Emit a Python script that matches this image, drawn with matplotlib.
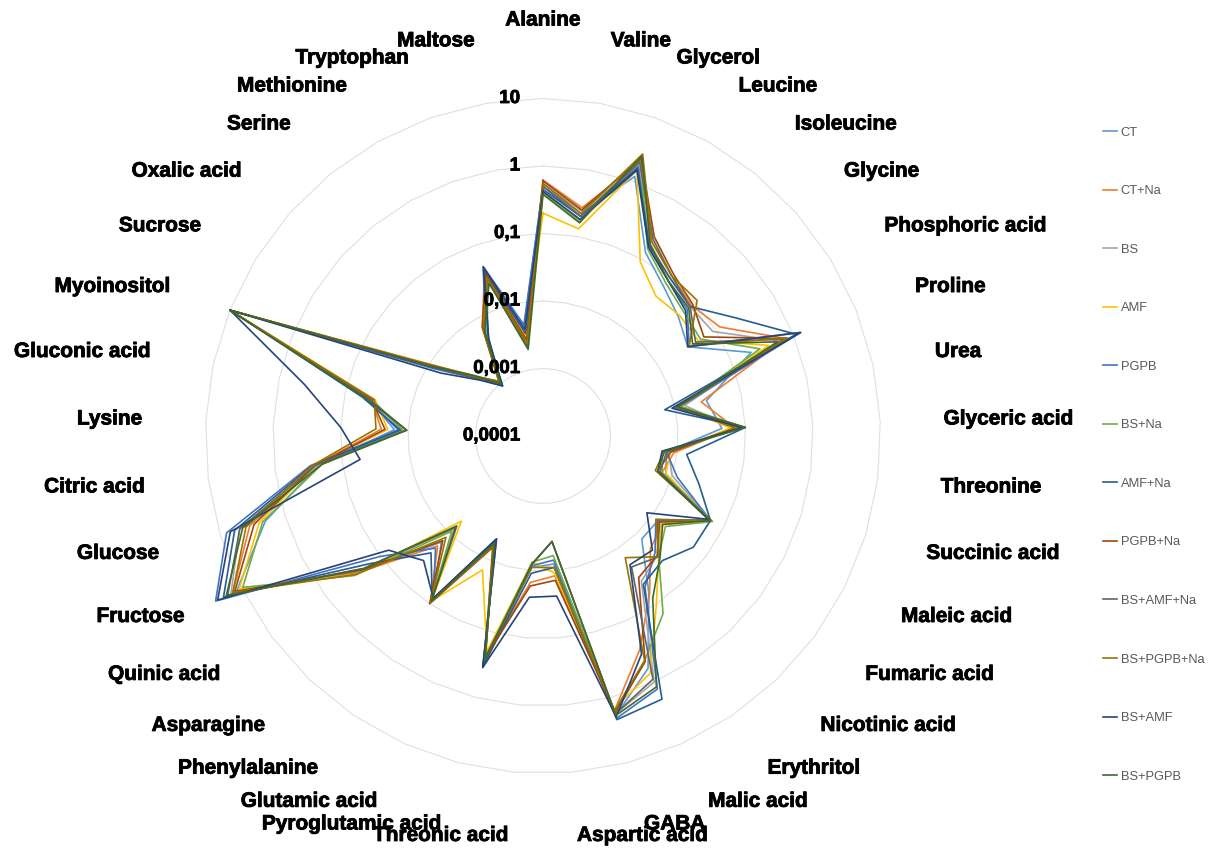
import numpy as np
import matplotlib
matplotlib.use('Agg')
import matplotlib.pyplot as plt
import matplotlib.patheffects as pe

plt.rcParams['font.family'] = ['Liberation Sans', 'DejaVu Sans']

categories = ['Alanine', 'Valine', 'Glycerol', 'Leucine', 'Isoleucine', 'Glycine',
              'Phosphoric acid', 'Proline', 'Urea', 'Glyceric acid', 'Threonine',
              'Succinic acid', 'Maleic acid', 'Fumaric acid', 'Nicotinic acid',
              'Erythritol', 'Malic acid', 'GABA', 'Aspartic acid', 'Threonic acid',
              'Pyroglutamic acid', 'Glutamic acid', 'Phenylalanine', 'Asparagine',
              'Quinic acid', 'Fructose', 'Glucose', 'Citric acid', 'Lysine',
              'Gluconic acid', 'Myoinositol', 'Sucrose', 'Oxalic acid', 'Serine',
              'Methionine', 'Tryptophan', 'Maltose']

ct = [.5, .22, 1.2, .13, .07, .047, .033, .21, .03, .045, .007, .008, .058, .013, .013, .063, .6, 1.9, .008,
      .009, .3, .006, .08, .015, .25, 12, 2.0, .22, .016, .045, 10, .009, .002, .0009, .006, .035, .0045]
ct_na = [.62, .27, 2.0, .2, .11, .085, .12, .75, .025, .07, .009, .007, .06, .016, .02, .066, .3, 1.6, .012,
         .015, .25, .006, .095, .018, .25, 14, 3.5, .25, .025, .04, 10, .012, .0022, .001, .007, .04, .003]
bs = [.55, .24, 1.8, .18, .1, .08, .09, .6, .014, .07, .0075, .01, .062, .013, .028, .04, 1.0, 1.8, .0037,
      .008, .28, .0055, .09, .008, .22, 15, 5, .22, .012, .045, 10, .01, .002, .001, .0055, .033, .003]
amf = [.2, .13, 1.5, .09, .046, .05, .05, .4, .012, .06, .008, .008, .058, .015, .03, .1, .72, 1.5, .011,
       .0075, .2, .015, .09, .0056, .28, 11, 2.5, .25, .02, .035, 9.8, .011, .0021, .0011, .0065, .03, .003]
pgpb = [.5, .2, 1.7, .16, .09, .07, .035, 1.3, .012, .08, .007, .012, .06, .012, .025, .05, 1.3, 2.1, .007,
        .0085, .35, .0047, .08, .02, .1, 27, 8, .3, .014, .05, 10, .008, .0019, .0009, .0055, .046, .0047]
bs_na = [.4, .17, 2.2, .15, .08, .06, .055, .29, .012, .1, .006, .007, .065, .018, .03, .15, .45, 1.8, .006,
         .0075, .25, .006, .09, .009, .3, 9.6, 2.2, .2, .012, .04, 10, .01, .0023, .001, .005, .028, .0025]
amf_na = [.45, .2, 1.6, .17, .1, .08, .22, 1.1, .007, .1, .014, .026, .06, .059, .036, .045, 1.9, 2.2, .009,
          .011, .33, .005, .085, .025, .15, 20, 6, .28, .013, .055, 9.8, .009, .002, .001, .0045, .04, .0035]
pgpb_na = [.6, .25, 2.3, .24, .12, .09, .063, .75, .011, .07, .008, .006, .058, .014, .028, .034, .47, 1.7, .014,
           .017, .25, .0065, .1, .014, .22, 13, 3, .25, .022, .04, 10, .011, .0022, .0011, .007, .035, .0028]
bs_amf_na = [.5, .2, 2.0, .22, .11, .08, .045, .7, .01, .08, .007, .0065, .06, .013, .03, .022, .9, 1.8, .0037,
             .008, .27, .0055, .09, .0075, .2, 17, 5, .25, .0105, .045, 10, .01, .002, .001, .006, .03, .0022]
bs_pgpb_na = [.55, .22, 2.7, .2, .11, .11, .035, .8, .011, .075, .0065, .0055, .062, .012, .03, .015, .45, 1.6, .009,
              .009, .24, .006, .095, .012, .28, 14, 4, .28, .03, .036, 10, .011, .0021, .0011, .0065, .03, .0025]
bs_amf = [.42, .18, 1.5, .16, .09, .065, .033, 1.3, .009, .09, .006, .006, .055, .0082, .022, .02, .35, 2.0, .024,
          .025, .35, .0047, .08, .036, .07, 25, 7, .054, .1, .41, 9.9, .006, .0018, .0009, .0045, .045, .004]
bs_pgpb = [.38, .16, 2.5, .18, .09, .075, .04, .55, .011, .1, .0065, .006, .06, .016, .032, .08, 1.2, 1.9, .0037,
           .008, .26, .0055, .09, .007, .2, 18, 4.5, .2, .0105, .05, 10, .01, .0022, .001, .006, .025, .002]

series_names = ['CT', 'CT+Na', 'BS', 'AMF', 'PGPB', 'BS+Na', 'AMF+Na', 'PGPB+Na',
                'BS+AMF+Na', 'BS+PGPB+Na', 'BS+AMF', 'BS+PGPB']
series = [ct, ct_na, bs, amf, pgpb, bs_na, amf_na, pgpb_na, bs_amf_na, bs_pgpb_na, bs_amf, bs_pgpb]
colors = ['#5B9BD5', '#ED7D31', '#A5A5A5', '#FFC000', '#4472C4', '#70AD47',
          '#255E91', '#9E480E', '#636363', '#997300', '#264478', '#43682B']

rings = [0.0001, 0.001, 0.01, 0.1, 1, 10]
ring_labels = ['0,0001', '0,001', '0,01', '0,1', '1', '10']

n = len(categories)
theta = np.arange(n) * 2 * np.pi / n
theta_c = np.append(theta, theta[0])

fig = plt.figure(figsize=(12.13, 8.5), dpi=100)
ax = fig.add_axes([0.11377, 0.01059, 0.66777, 0.95294], projection='polar')
ax.set_theta_zero_location('N')
ax.set_theta_direction(-1)
ax.set_rscale('log')
ax.set_rlim(1e-4, 100)
ax.grid(False)
ax.set_xticks([])
ax.set_yticks([])
ax.spines['polar'].set_visible(False)

bold = [pe.withStroke(linewidth=0.6, foreground='black')]

# polygon gridlines like excel
for v in rings[1:]:
    ax.plot(theta_c, [v] * (n + 1), color='#E0E0E0', lw=0.8, zorder=1)

for v, t in zip(rings, ring_labels):
    ax.annotate(t, xy=(0, v), xytext=(-23, 0), textcoords='offset pixels',
                ha='right', va='center', fontsize=13.5, fontweight='bold',
                path_effects=bold, zorder=5)

for vals, name, c in zip(series, series_names, colors):
    ax.plot(theta_c, vals + vals[:1], color=c, lw=1.2, label=name, zorder=3)

# category labels
for t, lab in zip(theta, categories):
    s = np.sin(t)
    r = 87
    if abs(s) < 1e-6:
        ha, va = 'center', 'bottom'
        r = 105
    elif s > 0:
        ha, va = 'left', 'center'
    else:
        ha, va = 'right', 'center'
    ax.text(t, r, lab, ha=ha, va=va, fontsize=15, fontweight='bold', path_effects=bold)

fig.legend(*ax.get_legend_handles_labels(), loc='upper left',
           bbox_to_anchor=(1091 / 1213, 1 - 115 / 850), frameon=False,
           fontsize=9.3, labelcolor='#595959', handlelength=1.1, handletextpad=0.3,
           labelspacing=3.6)

fig.savefig('out.png', dpi=100)
